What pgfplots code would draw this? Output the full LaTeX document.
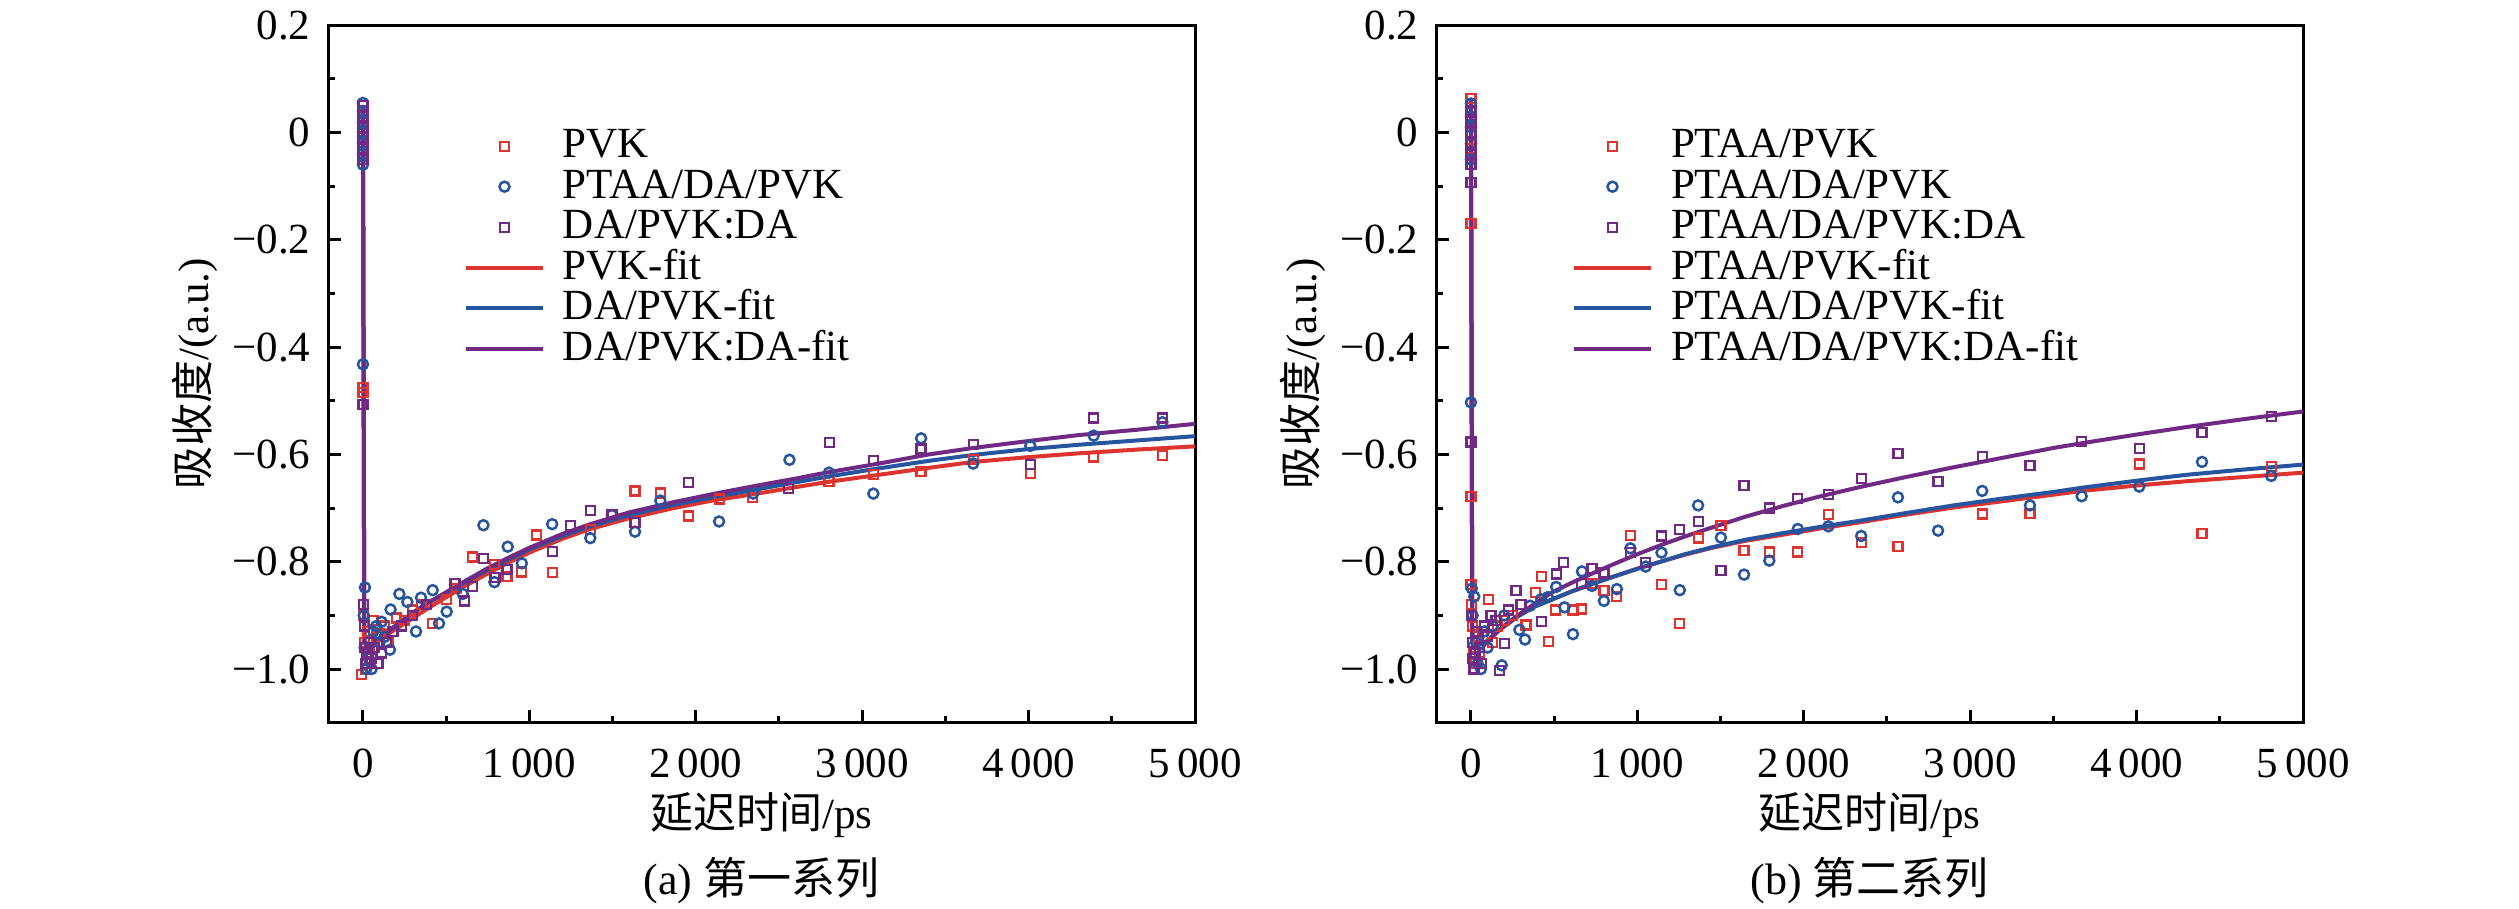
\documentclass[border=0pt]{standalone}
\usepackage{fontspec}
\setmainfont{Liberation Serif}
\newfontfamily\cjk{Noto Sans CJK SC}
\usepackage{pgfplots}
\pgfplotsset{compat=1.18}
\definecolor{cred}{RGB}{222,52,48}
\definecolor{cblue}{RGB}{38,84,158}
\definecolor{cpurp}{RGB}{112,42,132}
\pgfplotsset{
 myaxis/.style={
  scale only axis, width=173.4pt, height=139.5pt,
  xmin=-210, xmax=5000, ymin=-1.1, ymax=0.2,
  axis line style={line width=0.6pt},
  tick align=inside, tick pos=left,
  major tick length=2.6pt, minor tick length=1.3pt,
  tick style={black, line width=0.6pt},
  xtick={0,1000,2000,3000,4000,5000},
  xticklabels={0,1\,000,2\,000,3\,000,4\,000,5\,000},
  minor xtick={500,1500,2500,3500,4500},
  ytick={0.2,0,-0.2,-0.4,-0.6,-0.8,-1.0},
  yticklabels={0.2,0,−0.2,−0.4,−0.6,−0.8,−1.0},
  minor ytick={0.1,-0.1,-0.3,-0.5,-0.7,-0.9},
  font=\fontsize{8.6}{10}\selectfont,
  tick label style={font=\fontsize{8.6}{10}\selectfont},
  xticklabel style={yshift=-1.7pt},
  xlabel style={at={(axis description cs:0.5,-0.1326)}, anchor=center},
  ylabel style={at={(axis description cs:-0.153,0.5)}, anchor=center},
  xlabel={{\cjk 延迟时间}/ps},
  ylabel={{\cjk 吸收度}/(a.u.)},
  legend cell align=left,
  legend style={draw=none, fill=none, inner sep=0pt, row sep=0pt, column sep=3.6pt,
    at={(0.1557,0.857)}, anchor=north west,
    nodes={inner sep=0pt, text height=6.4pt, text depth=1.7pt, anchor=west},
    font=\fontsize{8.6}{10}\selectfont},
  legend image code/.code={\draw[mark repeat=2,mark phase=2,##1] plot coordinates {(0pt,0pt) (7.7pt,0pt) (15.4pt,0pt)};},
 },
 datr/.style={only marks, mark=square, mark size=0.9pt, color=cred, line width=0.45pt},
 datb/.style={only marks, mark=o, mark size=1.0pt, color=cblue, line width=0.5pt},
 datp/.style={only marks, mark=square, mark size=0.9pt, color=cpurp, line width=0.45pt},
 fitr/.style={no marks, color=cred, line width=0.8pt},
 fitb/.style={no marks, color=cblue, line width=0.8pt},
 fitp/.style={no marks, color=cpurp, line width=0.8pt},
}
\begin{document}
\begin{tikzpicture}
\useasboundingbox (0,0) rectangle (503.8pt,181.8pt);
% ---------------- panel (a)
\begin{axis}[myaxis, name=ax1, at={(65.6pt,37.26pt)}, anchor=south west]
\addplot[datr] coordinates {
(0,0.04)(0,0.0)(0,-0.03)(0,-0.05)(0,-0.475)(0,-0.485)
(5,-0.90)(10,-0.95)(15,-1.0)(-8,-1.01)(20,-0.97)(30,-0.93)(40,-0.96)(60,-0.91)(80,-0.94)(102,-0.934)(130,-0.92)(150,-0.95)(200,-0.905)(250,-0.91)(300,-0.89)(350,-0.88)
(419,-0.915)(500,-0.87)(560,-0.85)(660,-0.791)(790,-0.805)(865,-0.827)(951,-0.819)(1041,-0.750)(1139,-0.820)(1366,-0.740)(1635,-0.668)(1787,-0.672)(1958,-0.715)(2144,-0.683)(2343,-0.680)(2800,-0.650)(3067,-0.637)(3354,-0.632)(3667,-0.610)(4010,-0.636)(4391,-0.605)(4804,-0.602)
};
\addlegendentry{PVK}
\addplot[datb] coordinates {
(0,0.055)(0,0.04)(0,0.02)(0,0.0)(0,-0.02)(0,-0.04)(0,-0.06)(0,-0.432)
(12,-0.848)(5,-0.90)(10,-0.96)(20,-1.0)(35,-0.98)(52,-1.0)(62,-0.93)(80,-0.92)(100,-0.95)(112,-0.912)(130,-0.94)(162,-0.964)(166,-0.889)(219,-0.860)(267,-0.875)(319,-0.930)(349,-0.867)(419,-0.853)(457,-0.915)(503,-0.893)(600,-0.86)
(724,-0.732)(790,-0.838)(870,-0.772)(955,-0.803)(1137,-0.730)(1366,-0.756)(1496,-0.713)(1635,-0.744)(1787,-0.686)(2140,-0.725)(2345,-0.673)(2563,-0.610)(2800,-0.634)(3067,-0.673)(3354,-0.570)(3667,-0.617)(4010,-0.584)(4391,-0.565)(4804,-0.540)
};
\addlegendentry{PTAA/DA/PVK}
\addplot[datp] coordinates {
(0,0.05)(0,0.03)(0,0.01)(0,-0.01)(0,-0.03)(0,-0.05)(0,-0.507)
(3,-0.88)(8,-0.92)(12,-0.96)(18,-0.99)(25,-0.97)(40,-0.95)(50,-0.98)(70,-0.96)(90,-0.99)(110,-0.97)(140,-0.95)(180,-0.93)(230,-0.92)(300,-0.90)(380,-0.88)
(553,-0.841)(608,-0.873)(660,-0.846)(724,-0.794)(794,-0.830)(865,-0.814)(1139,-0.781)(1245,-0.732)(1366,-0.704)(1496,-0.712)(1635,-0.727)(1958,-0.652)(2559,-0.663)(2802,-0.578)(3067,-0.611)(3354,-0.590)(3667,-0.582)(4010,-0.619)(4391,-0.532)(4804,-0.532)
};
\addlegendentry{DA/PVK:DA}
\addplot[fitr] coordinates {(0,0.05)(8,-0.95)(50,-0.955)(100,-0.945)(200,-0.925)(300,-0.905)(400,-0.885)(500,-0.866)(614,-0.845)(750,-0.822)(865,-0.803)(1000,-0.783)(1200,-0.757)(1366,-0.739)(1600,-0.719)(1867,-0.700)(2100,-0.686)(2369,-0.673)(2600,-0.661)(2800,-0.651)(3100,-0.638)(3400,-0.625)(3667,-0.614)(4000,-0.605)(4300,-0.598)(4650,-0.591)(5000,-0.585)};
\addlegendentry{PVK-fit}
\addplot[fitb] coordinates {(0,0.05)(8,-0.95)(50,-0.96)(100,-0.945)(200,-0.918)(300,-0.895)(400,-0.875)(500,-0.858)(614,-0.838)(750,-0.815)(865,-0.797)(1000,-0.777)(1200,-0.752)(1366,-0.734)(1600,-0.713)(1867,-0.694)(2100,-0.680)(2369,-0.665)(2600,-0.652)(2800,-0.641)(3100,-0.626)(3400,-0.612)(3667,-0.601)(4000,-0.590)(4300,-0.582)(4650,-0.574)(5000,-0.566)};
\addlegendentry{DA/PVK-fit}
\addplot[fitp] coordinates {(0,0.05)(8,-0.95)(50,-0.96)(100,-0.945)(200,-0.918)(300,-0.895)(400,-0.875)(500,-0.857)(614,-0.836)(750,-0.812)(865,-0.794)(1000,-0.774)(1200,-0.748)(1366,-0.730)(1600,-0.708)(1867,-0.689)(2100,-0.674)(2369,-0.658)(2600,-0.645)(2800,-0.633)(3100,-0.617)(3400,-0.600)(3667,-0.588)(4000,-0.575)(4300,-0.564)(4650,-0.554)(5000,-0.543)};
\addlegendentry{DA/PVK:DA-fit}
\end{axis}
% ---------------- panel (b)
\begin{axis}[myaxis, name=ax2, at={(287.2pt,37.26pt)}, anchor=south west]
\addplot[datr] coordinates {
(0,0.063)(0,0.03)(0,0.0)(0,-0.03)(0,-0.169)(0,-0.678)(0,-0.843)
(5,-0.88)(10,-0.92)(15,-0.96)(25,-0.99)(35,-0.94)(50,-0.97)(70,-0.93)(104,-0.871)(130,-0.95)(160,-0.92)(200,-0.91)(250,-0.90)(331,-0.918)(388,-0.858)(426,-0.827)(466,-0.949)(508,-0.890)(613,-0.890)(663,-0.888)(727,-0.840)(799,-0.854)(873,-0.865)(958,-0.751)(1145,-0.843)(1255,-0.915)(1369,-0.756)(1502,-0.733)(1641,-0.779)(1793,-0.782)(1964,-0.782)(2148,-0.712)(2345,-0.764)(2566,-0.772)(3072,-0.711)(3359,-0.710)(4016,-0.618)(4393,-0.747)(4809,-0.623)
};
\addlegendentry{PTAA/PVK}
\addplot[datb] coordinates {
(0,0.054)(0,0.03)(0,0.01)(0,-0.02)(0,-0.05)(0,-0.503)
(5,-0.85)(10,-0.90)(20,-0.865)(30,-0.95)(40,-0.99)(60,-1.0)(80,-0.93)(100,-0.96)(130,-0.92)(185,-0.993)(200,-0.90)(291,-0.927)(325,-0.945)(355,-0.882)(422,-0.870)(462,-0.866)(512,-0.847)(562,-0.885)(613,-0.935)(667,-0.818)(727,-0.845)(799,-0.873)(877,-0.851)(958,-0.775)(1050,-0.809)(1145,-0.783)(1255,-0.853)(1365,-0.695)(1502,-0.755)(1641,-0.824)(1793,-0.798)(1964,-0.739)(2148,-0.734)(2345,-0.752)(2566,-0.680)(2807,-0.742)(3072,-0.668)(3359,-0.695)(3670,-0.678)(4016,-0.660)(4393,-0.614)(4809,-0.640)
};
\addlegendentry{PTAA/DA/PVK}
\addplot[datp] coordinates {
(0,0.04)(0,0.02)(0,0.0)(0,-0.02)(0,-0.04)(0,-0.06)(0,-0.093)(0,-0.577)
(3,-0.90)(8,-0.95)(12,-0.98)(18,-1.0)(25,-0.97)(35,-0.93)(50,-0.96)(65,-0.99)(80,-0.92)(100,-0.94)(120,-0.90)(150,-0.91)(171,-1.003)(201,-0.952)(227,-0.890)(271,-0.853)(300,-0.88)(426,-0.912)(512,-0.823)(558,-0.802)(663,-0.840)(727,-0.813)(799,-0.821)(958,-0.783)(1050,-0.802)(1145,-0.752)(1255,-0.740)(1369,-0.725)(1502,-0.816)(1641,-0.658)(1793,-0.700)(1964,-0.682)(2148,-0.675)(2345,-0.645)(2566,-0.598)(2807,-0.650)(3072,-0.604)(3359,-0.620)(3670,-0.576)(4016,-0.589)(4393,-0.559)(4809,-0.529)
};
\addlegendentry{PTAA/DA/PVK:DA}
\addplot[fitr] coordinates {(0,0.06)(8,-0.95)(80,-0.952)(180,-0.925)(281,-0.902)(380,-0.884)(482,-0.871)(600,-0.856)(750,-0.839)(884,-0.825)(1000,-0.813)(1150,-0.799)(1285,-0.787)(1450,-0.774)(1650,-0.761)(1888,-0.749)(2100,-0.738)(2349,-0.726)(2600,-0.713)(2900,-0.699)(3200,-0.687)(3500,-0.675)(3674,-0.668)(4000,-0.658)(4300,-0.650)(4650,-0.642)(5000,-0.634)};
\addlegendentry{PTAA/PVK-fit}
\addplot[fitb] coordinates {(0,0.06)(8,-0.95)(80,-0.952)(180,-0.925)(281,-0.902)(380,-0.884)(482,-0.871)(600,-0.856)(750,-0.839)(884,-0.825)(1000,-0.813)(1150,-0.799)(1285,-0.786)(1450,-0.773)(1650,-0.759)(1888,-0.746)(2100,-0.735)(2349,-0.723)(2600,-0.710)(2900,-0.695)(3200,-0.682)(3500,-0.670)(3674,-0.662)(4000,-0.649)(4300,-0.638)(4650,-0.628)(5000,-0.619)};
\addlegendentry{PTAA/DA/PVK-fit}
\addplot[fitp] coordinates {(0,0.06)(8,-0.95)(80,-0.955)(180,-0.924)(281,-0.900)(380,-0.879)(482,-0.858)(600,-0.840)(750,-0.819)(884,-0.801)(1000,-0.786)(1150,-0.768)(1285,-0.753)(1450,-0.736)(1650,-0.716)(1888,-0.695)(2100,-0.678)(2349,-0.660)(2600,-0.643)(2900,-0.624)(3200,-0.606)(3500,-0.588)(3674,-0.579)(4000,-0.563)(4300,-0.549)(4650,-0.534)(5000,-0.520)};
\addlegendentry{PTAA/DA/PVK:DA-fit}
\end{axis}
\node[font=\fontsize{8.8}{10}\selectfont] at ([yshift=-31.5pt]ax1.south) {(a) {\cjk 第一系列}};
\node[font=\fontsize{8.8}{10}\selectfont] at ([yshift=-31.5pt]ax2.south) {(b) {\cjk 第二系列}};
\end{tikzpicture}
\end{document}
